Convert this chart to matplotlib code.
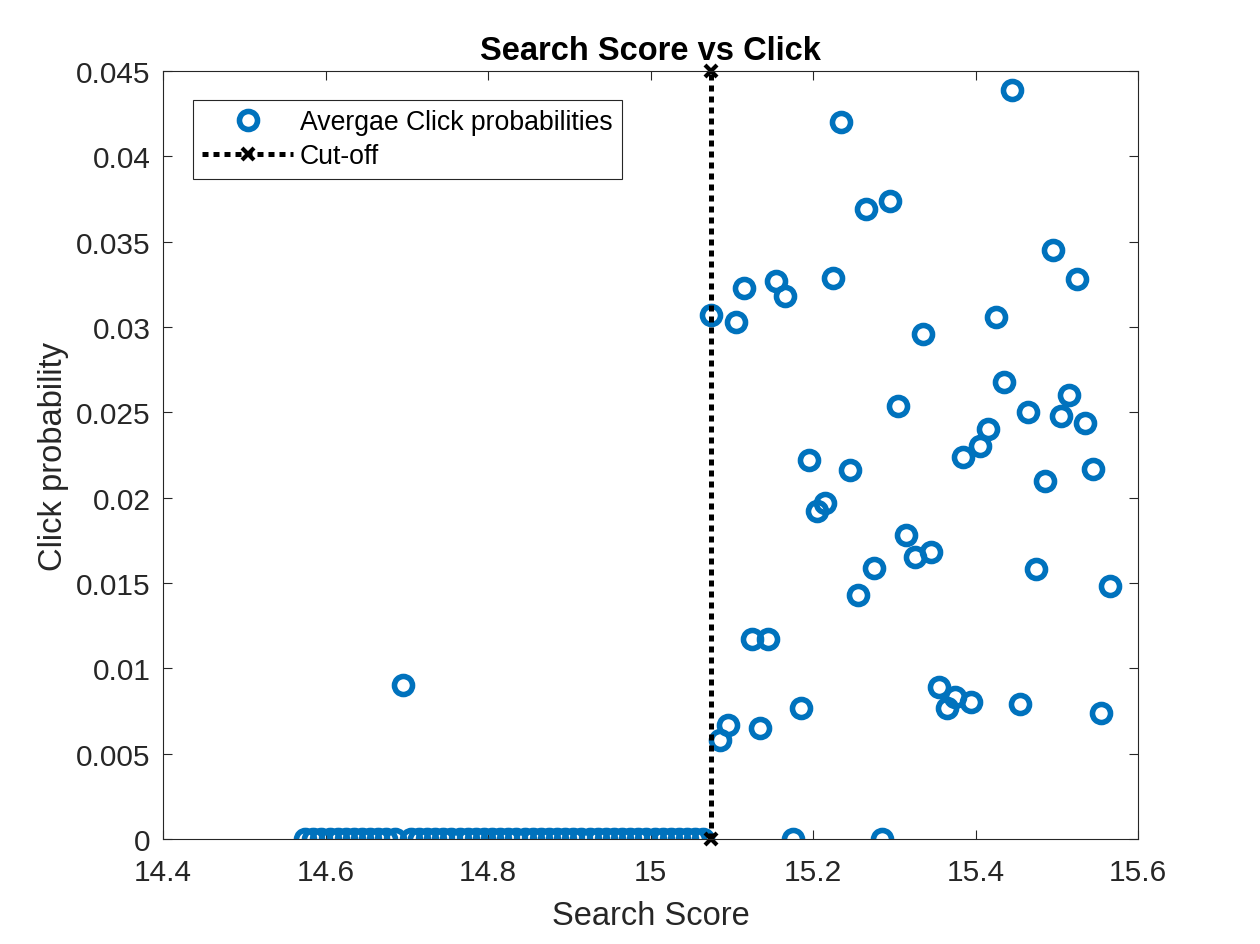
import matplotlib
matplotlib.use('Agg')

import matplotlib.pyplot as plt
from matplotlib.ticker import FormatStrFormatter

# search score bins (x) and average click probability (y)
score = [14.575, 14.585, 14.595, 14.605, 14.615, 14.625, 14.635, 14.645, 14.655, 14.665,
         14.675, 14.685, 14.695, 14.705, 14.715, 14.725, 14.735, 14.745, 14.755, 14.765,
         14.775, 14.785, 14.795, 14.805, 14.815, 14.825, 14.835, 14.845, 14.855, 14.865,
         14.875, 14.885, 14.895, 14.905, 14.915, 14.925, 14.935, 14.945, 14.955, 14.965,
         14.975, 14.985, 14.995, 15.005, 15.015, 15.025, 15.035, 15.045, 15.055, 15.065,
         15.075, 15.085, 15.095, 15.105, 15.115, 15.125, 15.135, 15.145, 15.155, 15.165,
         15.175, 15.185, 15.195, 15.205, 15.215, 15.225, 15.235, 15.245, 15.255, 15.265,
         15.275, 15.285, 15.295, 15.305, 15.315, 15.325, 15.335, 15.345, 15.355, 15.365,
         15.375, 15.385, 15.395, 15.405, 15.415, 15.425, 15.435, 15.445, 15.455, 15.465,
         15.475, 15.485, 15.495, 15.505, 15.515, 15.525, 15.535, 15.545, 15.555, 15.565]
click_prob = [0, 0, 0, 0, 0, 0, 0, 0, 0, 0,
              0, 0, 0.0090, 0, 0, 0, 0, 0, 0, 0,
              0, 0, 0, 0, 0, 0, 0, 0, 0, 0,
              0, 0, 0, 0, 0, 0, 0, 0, 0, 0,
              0, 0, 0, 0, 0, 0, 0, 0, 0, 0,
              0.0307, 0.0058, 0.0067, 0.0303, 0.0323, 0.0117, 0.0065, 0.0117, 0.0327, 0.0318,
              0, 0.0077, 0.0222, 0.0192, 0.0197, 0.0329, 0.0420, 0.0216, 0.0143, 0.0369,
              0.0159, 0, 0.0374, 0.0254, 0.0178, 0.0165, 0.0296, 0.0168, 0.0089, 0.0077,
              0.0083, 0.0224, 0.0080, 0.0230, 0.0240, 0.0306, 0.0268, 0.0439, 0.0079, 0.0250,
              0.0158, 0.0210, 0.0345, 0.0248, 0.0260, 0.0328, 0.0244, 0.0217, 0.0074, 0.0148]

cutoff_x = [15.075, 15.075]
cutoff_y = [0, 0.045]

xticks = [14.4, 14.6, 14.8, 15.0, 15.2, 15.4, 15.6]
yticks = [0, 0.005, 0.01, 0.015, 0.02, 0.025, 0.03, 0.035, 0.04, 0.045]

plt.rcParams['font.family'] = ['Liberation Sans', 'DejaVu Sans']
dark = '#262626'

fig = plt.figure(figsize=(12.6, 9.45), dpi=100)
ax = fig.add_axes([0.1294, 0.1111, 0.7738, 0.8127])

ax.plot(score, click_prob, linestyle='none', marker='o', markersize=13,
        markerfacecolor='none', markeredgecolor='#0072BD', markeredgewidth=4,
        label='Avergae Click probabilities')
ax.plot(cutoff_x, cutoff_y, color='black', linewidth=3.6, linestyle=(0, (1.2, 1.0)),
        marker='x', markersize=9, markeredgewidth=3, label='Cut-off', clip_on=False)

ax.set_xlim(14.4, 15.6)
ax.set_ylim(0, 0.045)
ax.set_xticks(xticks)
ax.set_yticks(yticks)
ax.xaxis.set_major_formatter(FormatStrFormatter('%g'))
ax.yaxis.set_major_formatter(FormatStrFormatter('%g'))
ax.tick_params(direction='in', length=6.5, width=0.8, colors=dark, labelsize=21.5,
               top=True, right=True)
ax.tick_params(axis='x', pad=14)
ax.tick_params(axis='y', pad=9)
for s in ax.spines.values():
    s.set_color(dark)
    s.set_linewidth(0.8)

ax.set_title('Search Score vs Click', fontsize=23.5, fontweight='bold', color='black', pad=9)
ax.set_xlabel('Search Score', fontsize=23.5, color=dark, labelpad=10)
ax.set_ylabel('Click probability', fontsize=23.5, color=dark, labelpad=5)

leg = ax.legend(loc='upper left', bbox_to_anchor=(0.0308, 0.9622), borderaxespad=0,
                fontsize=19.2, handlelength=3.4, handletextpad=0.25, borderpad=0.35,
                labelspacing=0.3, fancybox=False, framealpha=1, edgecolor=dark)
leg.get_frame().set_linewidth(0.8)

fig.savefig('out.png', dpi=100)
